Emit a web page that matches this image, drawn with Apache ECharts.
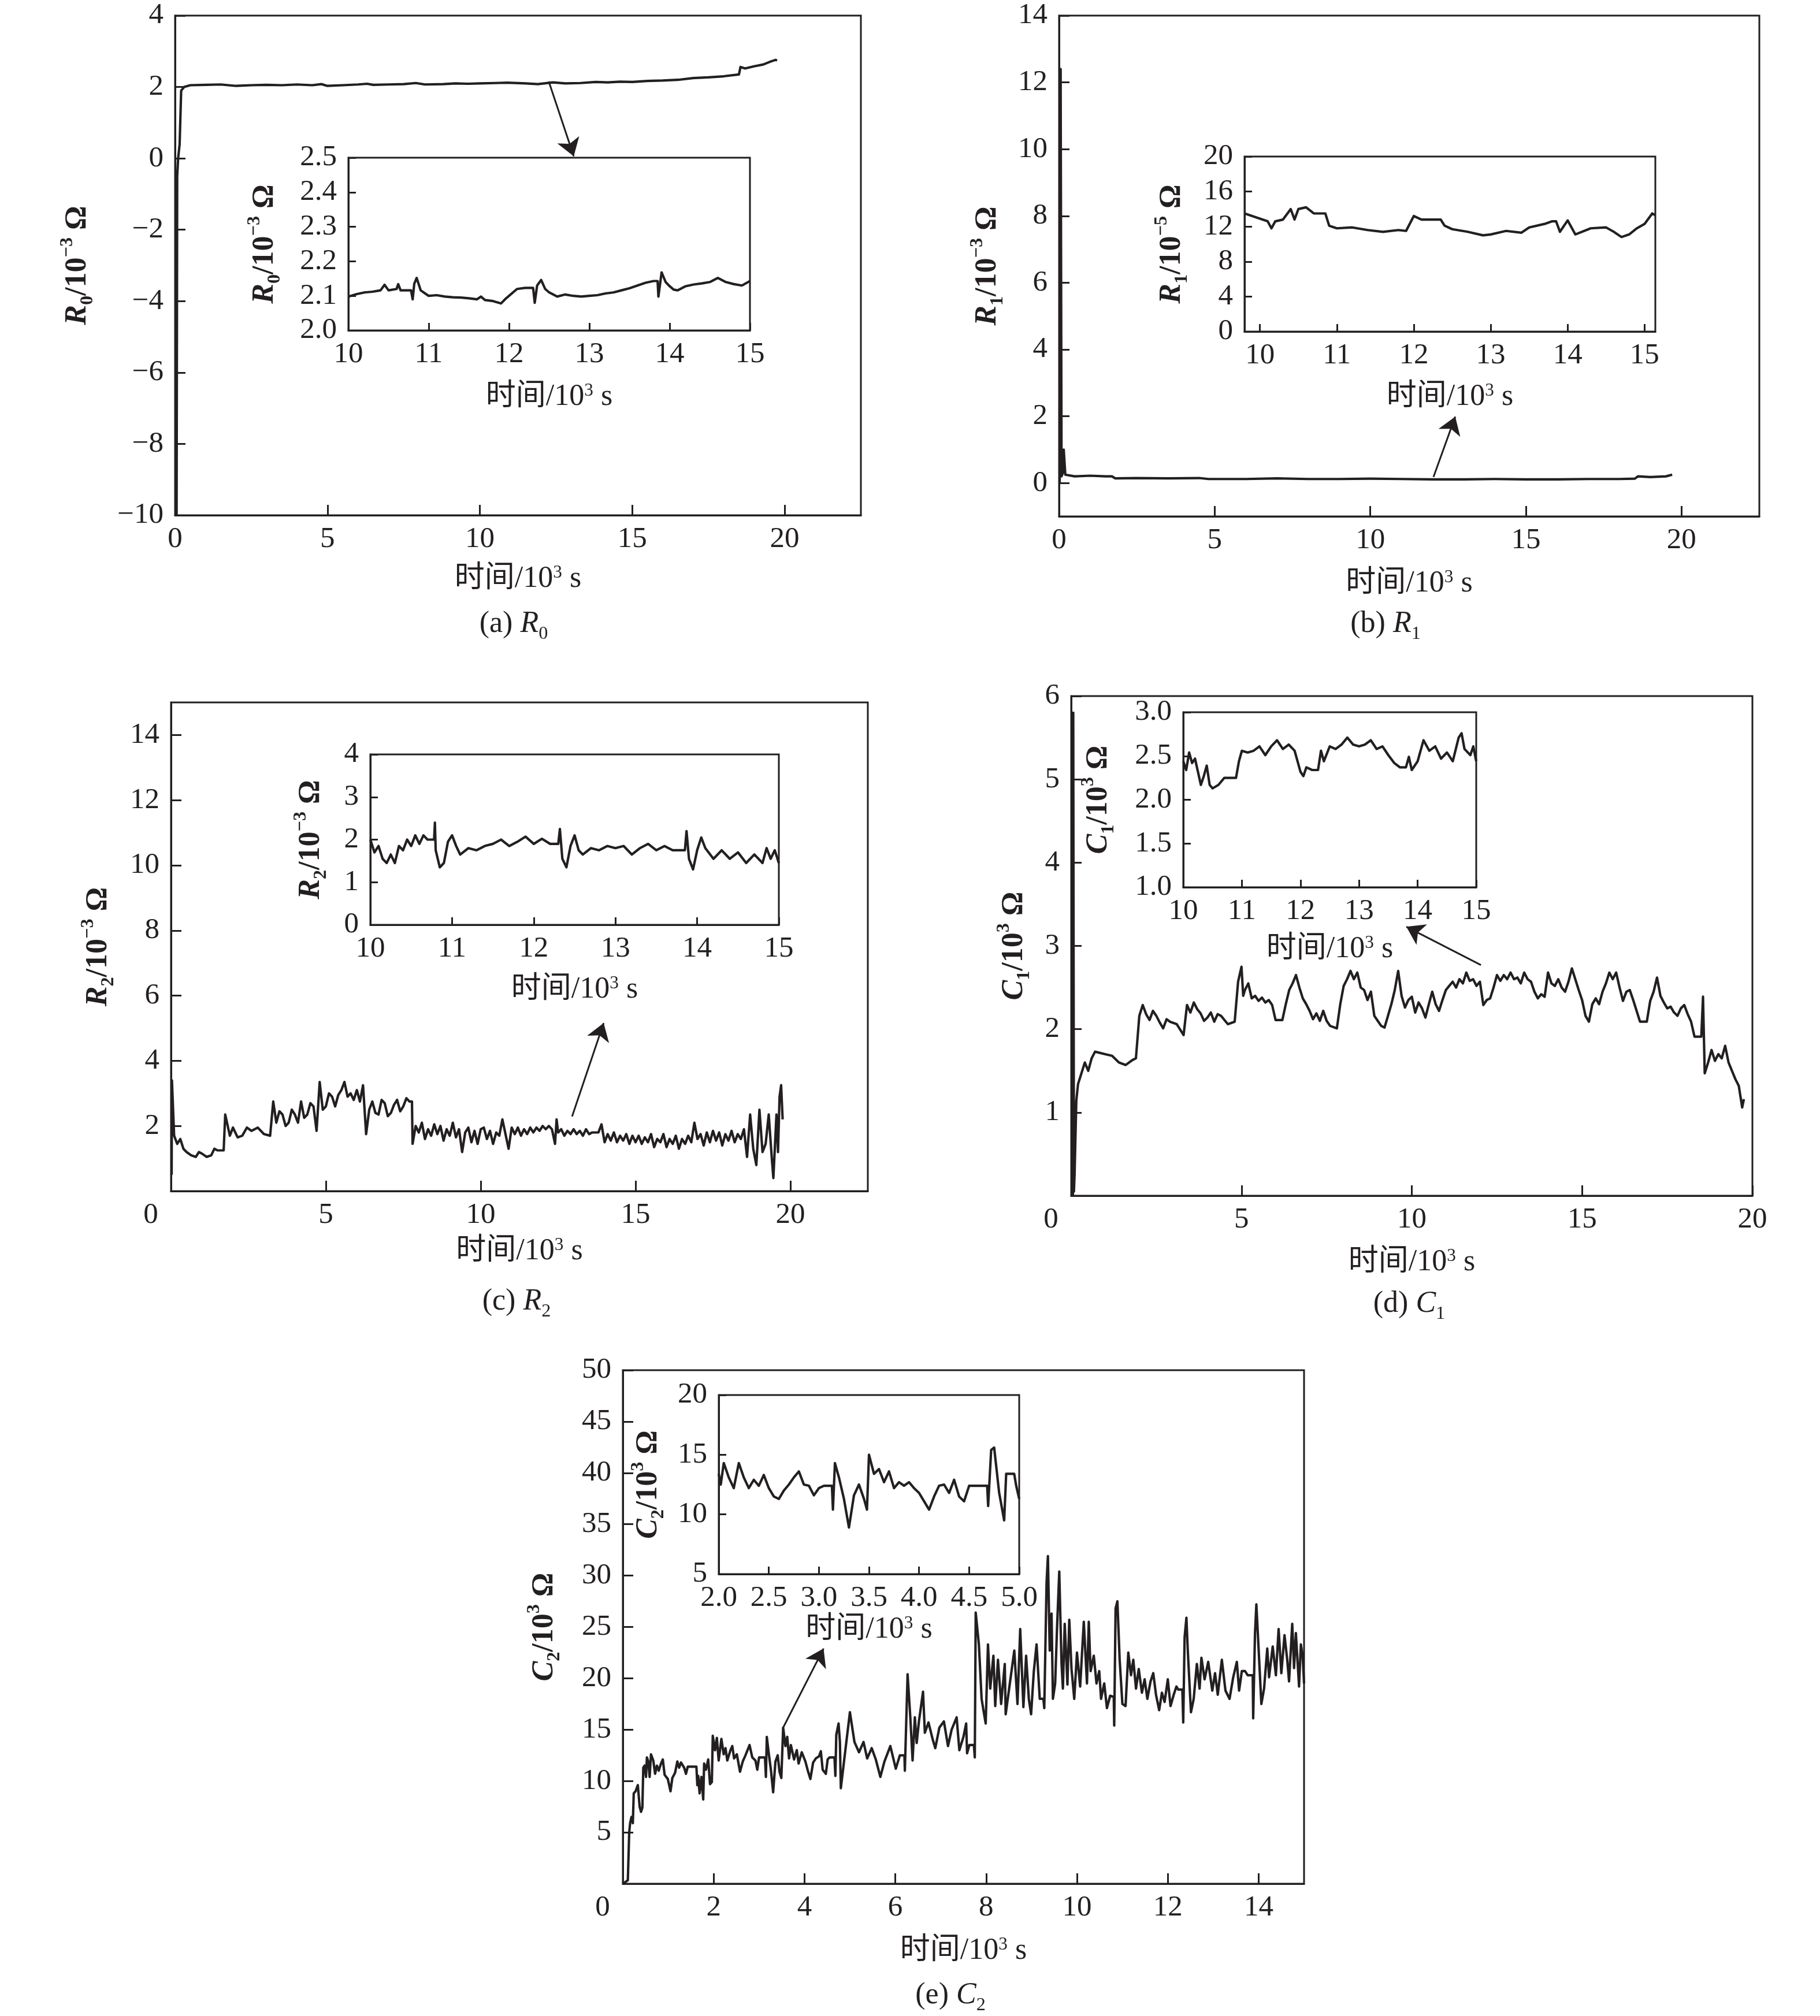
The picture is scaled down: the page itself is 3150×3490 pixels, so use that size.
<!DOCTYPE html>
<html>
<head>
<meta charset="utf-8">
<script src="https://cdn.jsdelivr.net/npm/echarts@6/dist/echarts.min.js"></script>
<style>
html,body{margin:0;background:#fff}
#chart{width:3150px;height:3490px}
</style>
</head>
<body>
<div id="chart"></div>
<script>
// ---- data: [time /10^3 s, value] ----
const r0Main = [[0,-10],[0.05,-10],[0.07,-0.5],[0.1,0],[0.15,0.4],[0.2,1.9],[0.3,2.0],[0.5,2.05],[1.0,2.06],[1.5,2.07],[2.0,2.03],[2.5,2.05],[3.0,2.06],[3.5,2.05],[4.0,2.07],[4.5,2.05],[4.8,2.08],[5.0,2.03],[5.5,2.05],[6.0,2.07],[6.3,2.09],[6.5,2.06],[7.0,2.07],[7.5,2.08],[7.9,2.11],[8.2,2.07],[8.8,2.08],[9.2,2.10],[9.6,2.09],[10.0,2.10],[10.5,2.11],[10.9,2.12],[11.5,2.10],[11.9,2.08],[12.4,2.13],[12.8,2.10],[13.3,2.11],[13.8,2.14],[14.2,2.13],[14.6,2.15],[15.0,2.14],[15.5,2.17],[16.0,2.18],[16.5,2.2],[17.0,2.25],[17.5,2.27],[18.0,2.3],[18.5,2.35],[18.55,2.56],[18.7,2.52],[19.0,2.58],[19.3,2.63],[19.5,2.7],[19.7,2.76],[19.75,2.74]];
const r0Inset = [[10.0,2.098],[10.1,2.105],[10.2,2.11],[10.3,2.112],[10.4,2.116],[10.45,2.132],[10.5,2.116],[10.6,2.12],[10.62,2.134],[10.65,2.116],[10.78,2.116],[10.8,2.09],[10.82,2.135],[10.85,2.152],[10.9,2.116],[10.95,2.108],[11.0,2.10],[11.1,2.102],[11.2,2.098],[11.3,2.096],[11.4,2.095],[11.5,2.093],[11.6,2.09],[11.65,2.098],[11.7,2.088],[11.8,2.085],[11.9,2.078],[11.95,2.09],[12.0,2.10],[12.1,2.12],[12.2,2.123],[12.3,2.123],[12.32,2.08],[12.35,2.13],[12.4,2.146],[12.45,2.12],[12.5,2.11],[12.6,2.098],[12.7,2.104],[12.8,2.10],[12.9,2.098],[13.0,2.10],[13.1,2.102],[13.2,2.107],[13.3,2.11],[13.4,2.116],[13.5,2.122],[13.6,2.13],[13.7,2.138],[13.8,2.143],[13.85,2.143],[13.86,2.098],[13.9,2.168],[13.95,2.14],[14.0,2.128],[14.05,2.118],[14.1,2.116],[14.2,2.128],[14.3,2.133],[14.4,2.136],[14.5,2.14],[14.6,2.152],[14.7,2.14],[14.8,2.134],[14.9,2.13],[15.0,2.143]];

const r1Main = [[0.02,0],[0.05,12.4],[0.08,0.2],[0.12,0.3],[0.15,1.0],[0.2,0.25],[0.5,0.2],[1.0,0.22],[1.5,0.2],[1.7,0.2],[1.8,0.14],[2.5,0.15],[3.5,0.14],[4.5,0.15],[4.8,0.12],[6.0,0.12],[7.0,0.14],[8.0,0.12],[9.0,0.12],[10.0,0.13],[11.0,0.12],[12.0,0.11],[13.0,0.11],[14.0,0.12],[15.0,0.11],[16.0,0.11],[17.0,0.12],[18.0,0.12],[18.5,0.13],[18.6,0.2],[19.0,0.18],[19.5,0.2],[19.7,0.25]];
const r1Inset = [[9.8,13.5],[9.9,13.2],[10.0,12.9],[10.1,12.6],[10.15,11.8],[10.2,12.6],[10.3,12.8],[10.4,14.0],[10.45,12.8],[10.5,14.0],[10.6,14.2],[10.7,13.5],[10.85,13.5],[10.9,12.1],[11.0,11.8],[11.2,11.9],[11.4,11.6],[11.6,11.4],[11.8,11.6],[11.9,11.5],[12.0,13.2],[12.1,12.8],[12.35,12.8],[12.4,12.1],[12.5,11.7],[12.7,11.4],[12.9,11.0],[13.0,11.1],[13.2,11.5],[13.4,11.3],[13.5,11.9],[13.7,12.3],[13.8,12.6],[13.85,12.6],[13.9,11.4],[14.0,12.7],[14.1,11.1],[14.3,11.8],[14.5,11.9],[14.6,11.4],[14.7,10.8],[14.8,11.1],[14.9,11.8],[15.0,12.3],[15.1,13.5],[15.14,13.3]];

const r2Main = [[0.02,0.5],[0.03,3.4],[0.1,1.7],[0.2,1.45],[0.3,1.6],[0.4,1.3],[0.5,1.2],[0.65,1.1],[0.8,1.05],[0.9,1.2],[1.0,1.15],[1.15,1.05],[1.3,1.1],[1.4,1.3],[1.5,1.25],[1.7,1.25],[1.75,2.35],[1.9,1.7],[2.0,1.95],[2.15,1.65],[2.3,1.7],[2.45,1.95],[2.6,1.85],[2.8,1.95],[3.0,1.75],[3.2,1.7],[3.3,2.75],[3.4,2.1],[3.5,2.45],[3.6,2.35],[3.7,2.0],[3.8,2.1],[3.9,2.5],[4.0,2.35],[4.1,2.1],[4.2,2.75],[4.3,2.25],[4.4,2.35],[4.5,2.7],[4.6,2.6],[4.7,1.85],[4.8,3.35],[4.9,2.5],[5.0,2.6],[5.1,3.0],[5.2,2.9],[5.3,2.6],[5.4,2.95],[5.5,3.1],[5.6,3.35],[5.7,2.9],[5.8,3.0],[5.9,2.8],[6.0,3.1],[6.1,2.75],[6.2,3.25],[6.3,1.75],[6.4,2.5],[6.5,2.75],[6.6,2.4],[6.7,2.35],[6.8,2.8],[6.9,2.7],[7.0,2.3],[7.1,2.4],[7.2,2.65],[7.3,2.8],[7.4,2.45],[7.5,2.6],[7.6,2.85],[7.7,2.75],[7.78,2.75],[7.8,1.45],[7.9,2.0],[8.0,1.8],[8.1,2.1],[8.2,1.6],[8.3,1.9],[8.4,1.7],[8.5,2.05],[8.6,1.75],[8.7,2.0],[8.8,1.55],[8.9,1.9],[9.0,1.7],[9.1,2.1],[9.2,1.65],[9.3,1.9],[9.4,1.2],[9.5,1.8],[9.6,1.95],[9.7,1.5],[9.8,1.85],[9.9,1.45],[10.0,1.9],[10.1,1.95],[10.2,1.6],[10.3,1.85],[10.4,1.45],[10.5,1.8],[10.6,1.7],[10.7,2.2],[10.8,1.75],[10.9,1.3],[11.0,1.95],[11.1,1.75],[11.2,1.95],[11.3,1.7],[11.4,1.9],[11.5,1.75],[11.6,1.95],[11.7,1.8],[11.8,1.95],[11.9,1.85],[12.0,2.0],[12.1,1.9],[12.2,2.0],[12.3,1.9],[12.4,1.45],[12.45,2.2],[12.5,1.8],[12.6,1.9],[12.7,1.7],[12.8,1.85],[12.9,1.75],[13.0,1.9],[13.1,1.75],[13.2,1.85],[13.3,1.7],[13.4,1.9],[13.5,1.75],[13.6,1.8],[13.8,1.8],[13.9,2.05],[14.0,1.5],[14.1,1.75],[14.2,1.55],[14.3,1.8],[14.4,1.5],[14.5,1.7],[14.6,1.55],[14.7,1.75],[14.8,1.45],[14.9,1.7],[15.0,1.5],[15.1,1.7],[15.2,1.45],[15.3,1.65],[15.4,1.5],[15.5,1.75],[15.6,1.35],[15.7,1.6],[15.8,1.5],[15.9,1.75],[16.0,1.35],[16.1,1.6],[16.2,1.45],[16.3,1.7],[16.4,1.3],[16.5,1.6],[16.6,1.45],[16.7,1.7],[16.8,1.5],[16.9,2.1],[17.0,1.6],[17.1,1.75],[17.2,1.4],[17.3,1.8],[17.4,1.5],[17.5,1.85],[17.6,1.55],[17.7,1.8],[17.8,1.4],[17.9,1.75],[18.0,1.55],[18.1,1.85],[18.2,1.5],[18.3,1.75],[18.4,1.6],[18.5,1.9],[18.6,1.05],[18.7,2.35],[18.8,1.3],[18.9,0.8],[19.0,2.5],[19.1,1.2],[19.2,1.45],[19.3,2.35],[19.4,1.0],[19.45,0.4],[19.55,2.35],[19.6,1.2],[19.65,2.9],[19.7,3.25],[19.75,2.2]];
const r2Inset = [[10.0,2.0],[10.05,1.7],[10.1,1.85],[10.15,1.55],[10.2,1.45],[10.25,1.65],[10.3,1.45],[10.35,1.85],[10.4,1.75],[10.45,2.0],[10.5,1.85],[10.55,2.1],[10.6,1.9],[10.65,2.1],[10.7,2.0],[10.78,2.0],[10.79,2.4],[10.8,1.75],[10.85,1.35],[10.9,1.45],[10.95,1.95],[11.0,2.1],[11.05,1.85],[11.1,1.65],[11.2,1.8],[11.3,1.75],[11.4,1.85],[11.5,1.9],[11.6,2.0],[11.7,1.85],[11.8,1.95],[11.9,2.07],[12.0,1.9],[12.1,2.02],[12.2,1.9],[12.3,1.9],[12.32,2.25],[12.35,1.55],[12.4,1.35],[12.45,1.85],[12.5,2.1],[12.55,1.75],[12.6,1.65],[12.7,1.8],[12.8,1.75],[12.9,1.85],[13.0,1.8],[13.1,1.85],[13.2,1.65],[13.3,1.8],[13.4,1.9],[13.5,1.75],[13.6,1.85],[13.7,1.75],[13.85,1.75],[13.87,2.2],[13.9,1.55],[13.95,1.3],[14.0,1.75],[14.05,2.05],[14.1,1.8],[14.2,1.55],[14.3,1.75],[14.4,1.55],[14.5,1.7],[14.6,1.45],[14.7,1.65],[14.8,1.45],[14.85,1.8],[14.9,1.55],[14.95,1.75],[15.0,1.45]];

const c1Main = [[0.05,0],[0.06,5.8],[0.08,0.05],[0.1,0.27],[0.15,1.14],[0.2,1.34],[0.3,1.47],[0.4,1.6],[0.5,1.5],[0.6,1.65],[0.7,1.73],[1.0,1.7],[1.2,1.68],[1.4,1.6],[1.6,1.57],[1.8,1.63],[1.9,1.65],[2.0,2.16],[2.1,2.29],[2.2,2.18],[2.3,2.11],[2.4,2.22],[2.5,2.16],[2.6,2.08],[2.7,2.01],[2.8,2.12],[2.9,2.09],[3.1,2.06],[3.3,1.93],[3.4,2.29],[3.5,2.2],[3.6,2.32],[3.7,2.24],[3.8,2.19],[3.9,2.1],[4.0,2.14],[4.1,2.2],[4.2,2.09],[4.3,2.18],[4.4,2.16],[4.6,2.06],[4.8,2.09],[4.9,2.57],[5.0,2.75],[5.05,2.4],[5.1,2.47],[5.2,2.55],[5.3,2.37],[5.4,2.4],[5.5,2.34],[5.6,2.38],[5.7,2.32],[5.8,2.35],[5.9,2.29],[6.0,2.11],[6.2,2.11],[6.3,2.3],[6.4,2.47],[6.5,2.55],[6.6,2.65],[6.7,2.5],[6.8,2.37],[6.9,2.3],[7.0,2.22],[7.1,2.12],[7.2,2.19],[7.3,2.1],[7.4,2.22],[7.5,2.1],[7.6,2.04],[7.8,2.01],[7.9,2.3],[8.0,2.52],[8.1,2.6],[8.2,2.7],[8.3,2.6],[8.4,2.68],[8.5,2.5],[8.6,2.47],[8.7,2.35],[8.8,2.45],[8.9,2.16],[9.0,2.1],[9.1,2.04],[9.2,2.02],[9.3,2.16],[9.4,2.3],[9.5,2.47],[9.6,2.7],[9.7,2.4],[9.8,2.26],[9.9,2.35],[10.0,2.39],[10.1,2.2],[10.2,2.32],[10.3,2.25],[10.4,2.14],[10.5,2.3],[10.6,2.45],[10.7,2.3],[10.8,2.22],[10.9,2.35],[11.0,2.47],[11.1,2.52],[11.2,2.57],[11.3,2.5],[11.4,2.6],[11.5,2.55],[11.6,2.68],[11.7,2.58],[11.8,2.6],[11.9,2.52],[12.0,2.57],[12.1,2.29],[12.2,2.35],[12.3,2.37],[12.4,2.5],[12.5,2.65],[12.6,2.58],[12.7,2.65],[12.8,2.6],[12.9,2.68],[13.0,2.6],[13.1,2.62],[13.2,2.55],[13.3,2.68],[13.4,2.6],[13.5,2.57],[13.6,2.45],[13.7,2.37],[13.8,2.42],[13.9,2.39],[14.0,2.68],[14.1,2.55],[14.2,2.52],[14.3,2.6],[14.4,2.5],[14.5,2.45],[14.6,2.57],[14.7,2.73],[14.8,2.6],[14.9,2.47],[15.0,2.35],[15.1,2.16],[15.2,2.09],[15.3,2.3],[15.4,2.37],[15.5,2.3],[15.6,2.45],[15.7,2.55],[15.8,2.68],[15.9,2.6],[16.0,2.68],[16.1,2.5],[16.2,2.34],[16.3,2.45],[16.4,2.47],[16.5,2.35],[16.6,2.22],[16.7,2.09],[16.9,2.09],[17.0,2.34],[17.1,2.45],[17.2,2.62],[17.3,2.4],[17.4,2.32],[17.5,2.25],[17.6,2.27],[17.7,2.2],[17.8,2.16],[17.9,2.25],[18.0,2.29],[18.1,2.18],[18.2,2.09],[18.3,1.91],[18.5,1.91],[18.55,2.39],[18.6,1.47],[18.7,1.6],[18.8,1.75],[18.9,1.62],[19.0,1.7],[19.1,1.65],[19.2,1.8],[19.3,1.6],[19.4,1.5],[19.5,1.4],[19.6,1.32],[19.7,1.06],[19.75,1.16]];
const c1Inset = [[10.0,2.44],[10.05,2.34],[10.1,2.54],[10.15,2.42],[10.2,2.47],[10.25,2.32],[10.3,2.17],[10.35,2.27],[10.4,2.39],[10.45,2.17],[10.5,2.13],[10.6,2.17],[10.7,2.25],[10.9,2.25],[10.95,2.44],[11.0,2.56],[11.1,2.54],[11.2,2.56],[11.3,2.61],[11.4,2.51],[11.5,2.61],[11.6,2.68],[11.7,2.58],[11.8,2.63],[11.9,2.56],[12.0,2.32],[12.05,2.27],[12.1,2.37],[12.2,2.34],[12.3,2.34],[12.35,2.56],[12.4,2.44],[12.5,2.61],[12.6,2.58],[12.7,2.63],[12.8,2.71],[12.9,2.63],[13.0,2.61],[13.1,2.63],[13.2,2.68],[13.3,2.58],[13.4,2.61],[13.5,2.51],[13.6,2.42],[13.7,2.37],[13.8,2.37],[13.85,2.49],[13.9,2.34],[14.0,2.44],[14.1,2.68],[14.2,2.56],[14.3,2.61],[14.4,2.47],[14.5,2.54],[14.6,2.44],[14.7,2.71],[14.75,2.76],[14.8,2.58],[14.9,2.51],[14.95,2.61],[15.0,2.44]];

const c2Main = [[0,0],[0.05,0.15],[0.11,0.34],[0.14,5.0],[0.16,5.9],[0.19,6.5],[0.22,5.9],[0.24,8.8],[0.28,9.0],[0.33,9.6],[0.37,7.5],[0.40,7.0],[0.43,7.4],[0.45,11.3],[0.48,11.5],[0.51,10.4],[0.53,12.3],[0.56,11.9],[0.59,10.4],[0.62,12.6],[0.67,12.0],[0.71,10.7],[0.75,11.5],[0.79,11.0],[0.84,11.7],[0.88,12.1],[0.92,10.6],[0.99,10.2],[1.05,9.0],[1.09,10.3],[1.15,10.8],[1.20,11.9],[1.24,11.3],[1.28,11.8],[1.35,11.3],[1.39,10.7],[1.43,11.4],[1.62,11.4],[1.64,9.6],[1.66,10.5],[1.69,8.8],[1.73,10.4],[1.77,8.2],[1.79,11.7],[1.83,11.1],[1.88,12.1],[1.92,9.7],[1.96,9.9],[1.98,14.4],[2.03,13.0],[2.07,14.2],[2.11,12.0],[2.17,14.1],[2.22,12.6],[2.26,13.2],[2.30,12.0],[2.37,13.0],[2.41,13.4],[2.45,12.2],[2.51,12.6],[2.58,10.9],[2.64,11.9],[2.70,12.5],[2.79,13.5],[2.85,12.3],[2.92,12.0],[2.96,11.1],[3.00,12.3],[3.13,12.3],[3.15,10.4],[3.17,14.3],[3.21,12.8],[3.26,11.1],[3.31,8.9],[3.36,11.9],[3.41,12.5],[3.45,10.9],[3.49,10.3],[3.53,15.2],[3.58,13.4],[3.62,14.3],[3.66,12.2],[3.70,13.5],[3.77,12.1],[3.83,13.0],[3.87,11.7],[3.94,12.8],[4.02,11.9],[4.08,10.9],[4.13,10.2],[4.19,11.8],[4.25,12.2],[4.32,12.4],[4.36,12.9],[4.40,11.1],[4.47,10.7],[4.51,12.1],[4.55,12.3],[4.66,12.3],[4.68,10.5],[4.70,14.5],[4.75,15.6],[4.78,13.8],[4.8,9.3],[4.9,13.0],[5.0,16.7],[5.1,13.8],[5.2,12.8],[5.3,13.8],[5.38,12.2],[5.48,13.2],[5.57,12.1],[5.67,10.4],[5.76,11.9],[5.89,13.4],[6.01,11.2],[6.10,12.5],[6.20,12.5],[6.21,11.0],[6.27,20.4],[6.33,16.2],[6.38,12.0],[6.43,16.2],[6.47,13.7],[6.52,15.8],[6.61,18.7],[6.65,14.7],[6.73,15.7],[6.82,14.1],[6.88,13.2],[6.97,15.2],[7.07,15.8],[7.16,13.4],[7.24,15.0],[7.35,16.2],[7.41,13.0],[7.50,14.3],[7.56,15.6],[7.58,12.7],[7.63,13.5],[7.73,13.5],[7.75,12.3],[7.77,26.4],[7.84,23.3],[7.90,18.0],[7.94,16.9],[7.99,15.6],[8.04,23.3],[8.09,19.0],[8.16,22.2],[8.20,17.3],[8.26,21.8],[8.33,17.5],[8.41,21.4],[8.43,16.5],[8.54,20.1],[8.62,22.7],[8.69,17.5],[8.75,24.8],[8.82,17.2],[8.88,22.2],[8.94,18.0],[8.99,16.5],[9.05,20.7],[9.11,23.3],[9.18,18.0],[9.26,18.0],[9.28,17.1],[9.33,29.3],[9.36,31.9],[9.40,22.7],[9.44,26.3],[9.47,18.0],[9.52,19.5],[9.56,24.8],[9.61,30.4],[9.66,21.4],[9.69,19.0],[9.73,25.3],[9.79,19.4],[9.83,25.7],[9.88,20.9],[9.94,18.0],[10.00,22.5],[10.07,19.2],[10.15,25.5],[10.22,19.5],[10.26,25.5],[10.30,20.7],[10.37,22.2],[10.43,19.5],[10.49,20.7],[10.53,18.0],[10.60,19.5],[10.66,17.1],[10.73,18.3],[10.81,18.2],[10.82,15.4],[10.85,26.8],[10.89,27.5],[10.94,21.8],[11.00,17.5],[11.07,17.3],[11.13,22.5],[11.19,20.3],[11.24,21.8],[11.30,19.0],[11.36,20.9],[11.43,18.6],[11.49,19.9],[11.55,18.0],[11.62,19.7],[11.68,20.5],[11.74,18.4],[11.81,16.9],[11.87,18.6],[11.93,17.7],[12.00,19.9],[12.06,17.3],[12.13,18.4],[12.19,19.2],[12.23,18.9],[12.32,18.9],[12.34,15.7],[12.37,24.0],[12.41,25.9],[12.44,22.7],[12.51,16.7],[12.57,18.0],[12.64,21.4],[12.70,19.0],[12.74,22.0],[12.81,19.9],[12.89,21.6],[12.98,18.8],[13.04,20.5],[13.10,18.4],[13.19,21.8],[13.27,18.8],[13.36,18.0],[13.44,20.1],[13.52,21.6],[13.57,18.8],[13.63,20.7],[13.70,20.7],[13.76,20.3],[13.87,20.3],[13.88,16.1],[13.92,24.4],[13.95,27.2],[13.99,23.7],[14.06,17.5],[14.12,19.0],[14.19,22.9],[14.23,20.1],[14.31,23.1],[14.38,20.3],[14.44,24.8],[14.50,20.5],[14.57,24.2],[14.63,21.8],[14.67,19.7],[14.74,25.3],[14.78,21.0],[14.82,24.4],[14.89,19.2],[14.93,23.3],[14.97,22.2],[15.0,19.5]];
const c2Inset = [[2.0,13.4],[2.02,12.5],[2.05,14.3],[2.1,13.1],[2.15,12.2],[2.2,14.3],[2.25,13.1],[2.3,12.2],[2.35,12.9],[2.4,12.4],[2.45,13.3],[2.5,12.2],[2.55,11.5],[2.6,11.3],[2.65,12.0],[2.7,12.5],[2.75,13.1],[2.8,13.6],[2.85,12.5],[2.9,12.4],[2.95,11.6],[3.0,12.2],[3.05,12.4],[3.13,12.4],[3.14,10.4],[3.16,14.3],[3.2,13.1],[3.25,11.3],[3.3,8.9],[3.35,11.6],[3.4,12.5],[3.45,11.3],[3.48,10.4],[3.5,15.0],[3.55,13.4],[3.6,13.8],[3.65,12.7],[3.7,13.6],[3.75,12.2],[3.8,12.7],[3.85,12.4],[3.9,12.7],[3.95,12.2],[4.0,11.8],[4.05,11.1],[4.1,10.4],[4.15,11.5],[4.2,12.4],[4.25,12.5],[4.3,11.8],[4.35,12.9],[4.4,11.5],[4.45,11.1],[4.5,12.4],[4.68,12.4],[4.69,10.7],[4.72,15.4],[4.75,15.6],[4.8,11.8],[4.85,9.5],[4.87,13.4],[4.95,13.4],[4.97,12.4],[5.0,11.3]];

// ---- tick values ----
const ticksX20 = [0,5,10,15,20];
const ticksInsetX = [10,11,12,13,14,15];
const ticksR0 = [-10,-8,-6,-4,-2,0,2,4];
const ticksR0Inset = [2.0,2.1,2.2,2.3,2.4,2.5];
const ticksR1 = [0,2,4,6,8,10,12,14];
const ticksR1Inset = [0,4,8,12,16,20];
const ticksR2 = [2,4,6,8,10,12,14];
const ticksR2Inset = [0,1,2,3,4];
const ticksC1 = [1,2,3,4,5,6];
const ticksC1Inset = [1.0,1.5,2.0,2.5,3.0];
const ticksC2 = [5,10,15,20,25,30,35,40,45,50];
const ticksC2X = [0,2,4,6,8,10,12,14];
const ticksC2Inset = [5,10,15,20];
const ticksC2InsetX = [2.0,2.5,3.0,3.5,4.0,4.5,5.0];

const INK = '#231f20';
const SERIF = "'Liberation Serif','Noto Sans CJK SC',serif";

const chart = echarts.init(document.getElementById('chart'));

const panels = [
  {box:[303,27,1187,865], x:[0,22.5], y:[-10,4], xt:ticksX20, yt:ticksR0, data:r0Main, nm:['R','0','−3'], yGap:135, xGap:84,
   arrow:[[12.26,2.155],[13.08,0.06]]},
  {box:[603,273,695,299], x:[10,15], y:[2.0,2.5], xt:ticksInsetX, yt:ticksR0Inset, yDec:1, data:r0Inset, nm:['R','0','−3'], yGap:111, xGap:89, inset:true},
  {box:[1833,27,1212,867], x:[0,22.5], y:[-1,14], xt:ticksX20, yt:ticksR1, data:r1Main, nm:['R','1','−3'], yGap:90, xGap:90,
   arrow:[[12.03,0.18],[12.73,1.99]]},
  {box:[2154,271,711,303], x:[9.8,15.14], y:[0,20], xt:ticksInsetX, yt:ticksR1Inset, data:r1Inset, nm:['R','1','−5'], yGap:92, xGap:87, inset:true},
  {box:[296,1216,1206,846], x:[0,22.5], y:[0,15], xt:ticksX20, yt:ticksR2, data:r2Main, nm:['R','2','−3'], yGap:92, xGap:78, zeroShift:true,
   arrow:[[12.95,2.29],[13.97,5.16]]},
  {box:[641,1306,707,295], x:[10,15], y:[0,4], xt:ticksInsetX, yt:ticksR2Inset, data:r2Inset, nm:['R','2','−3'], yGap:69, xGap:86, inset:true},
  {box:[1854,1205,1179,865], x:[0,20], y:[0,6], xt:ticksX20, yt:ticksC1, data:c1Main, nm:['C','1','3'], yGap:65, xGap:89, zeroShift:true,
   arrow:[[12.03,2.77],[9.84,3.23]]},
  {box:[2048,1233,507,303], x:[10,15], y:[1,3], xt:ticksInsetX, yt:ticksC1Inset, yDec:1, data:c1Inset, nm:['C','1','3'], yGap:113, xGap:81, inset:true},
  {box:[1078,2372,1179,889], x:[0,15], y:[0,50], xt:ticksC2X, yt:ticksC2, data:c2Main, nm:['C','2','3'], yGap:102, xGap:90, zeroShift:true,
   arrow:[[3.53,15.2],[4.42,22.9]]},
  {box:[1244,2415,520,310], x:[2,5], y:[5,20], xt:ticksC2InsetX, xDec:1, yt:ticksC2Inset, data:c2Inset, nm:['C','2','3'], yGap:88, xGap:70, inset:true}
];

const captions = [
  {x:889, y:1080, sym:'R', sub:'0', tag:'(a)'},
  {x:2398, y:1080, sym:'R', sub:'1', tag:'(b)'},
  {x:894, y:2253, sym:'R', sub:'2', tag:'(c)'},
  {x:2439, y:2257, sym:'C', sub:'1', tag:'(d)'},
  {x:1645, y:3454, sym:'C', sub:'2', tag:'(e)'}
];

const FS = 51;     // tick labels
const NFS = 52;    // axis names

function fmt(dec, zeroShift) {
  return v => {
    if (zeroShift && v === 0) return '{z|0}';
    const s = Math.abs(v).toFixed(dec || 0);
    return (v < 0 ? '−' : '') + s;
  };
}

const yNameRich = {
  i: {fontFamily: SERIF, fontSize: NFS, fontStyle: 'italic', fontWeight: 'bold', color: INK, lineHeight: NFS * 1.3},
  b: {fontFamily: SERIF, fontSize: NFS * 0.62, fontWeight: 'bold', color: INK, verticalAlign: 'bottom', lineHeight: NFS * 0.62},
  n: {fontFamily: SERIF, fontSize: NFS, fontWeight: 'bold', color: INK, lineHeight: NFS * 1.3},
  t: {fontFamily: SERIF, fontSize: NFS * 0.62, fontWeight: 'bold', color: INK, verticalAlign: 'top', lineHeight: NFS * 0.62}
};

const grids = [], xAxes = [], yAxes = [], series = [];

panels.forEach((p, k) => {
  const zBase = p.inset ? 10 : 0;
  grids.push({
    left: p.box[0], top: p.box[1], width: p.box[2], height: p.box[3],
    show: true, borderColor: INK, borderWidth: 3,
    backgroundColor: p.inset ? '#fff' : 'transparent', z: zBase
  });
  xAxes.push({
    type: 'value', gridIndex: k, min: p.x[0], max: p.x[1], z: zBase + 2,
    axisLine: {show: true, onZero: false, lineStyle: {color: INK, width: 3}},
    axisTick: {show: true, inside: true, length: p.inset ? 13 : 18, customValues: p.xt, lineStyle: {color: INK, width: 3}},
    axisLabel: {customValues: p.xt, margin: 16, fontSize: FS, fontFamily: SERIF, color: INK,
      formatter: fmt(p.xDec, p.zeroShift), rich: {z: {padding: [0, 70, 0, 0]}}},
    splitLine: {show: false},
    name: '时间/10{p|3} s', nameLocation: 'middle', nameGap: p.xGap,
    nameTextStyle: {fontSize: NFS, fontFamily: SERIF, color: INK,
      rich: {p: {fontSize: NFS * 0.6, fontFamily: SERIF, color: INK, verticalAlign: 'top'}}}
  });
  yAxes.push({
    type: 'value', gridIndex: k, min: p.y[0], max: p.y[1], z: zBase + 2,
    axisLine: {show: true, onZero: false, lineStyle: {color: INK, width: 3}},
    axisTick: {show: true, inside: true, length: p.inset ? 13 : 18, customValues: p.yt, lineStyle: {color: INK, width: 3}},
    axisLabel: {customValues: p.yt, margin: 20, fontSize: FS, fontFamily: SERIF, color: INK, formatter: fmt(p.yDec)},
    splitLine: {show: false},
    name: `{i|${p.nm[0]}}{b|${p.nm[1]}}{n|/10}{t|${p.nm[2]}}{n| Ω}`,
    nameLocation: 'middle', nameGap: p.yGap,
    nameTextStyle: {rich: yNameRich}
  });
  const s = {
    type: 'line', xAxisIndex: k, yAxisIndex: k, data: p.data,
    symbol: 'none', showSymbol: false, silent: true, animation: false, z: zBase + 3,
    lineStyle: {color: INK, width: 4.2, join: 'round'}
  };
  if (p.arrow) {
    s.markLine = {
      silent: true, animation: false, symbol: ['none', 'arrow'], symbolSize: 30,
      label: {show: false},
      lineStyle: {color: INK, width: 3, type: 'solid'},
      data: [[{coord: p.arrow[0]}, {coord: p.arrow[1]}]]
    };
  }
  series.push(s);
});

const graphic = captions.map(c => ({
  type: 'text', x: c.x, y: c.y,
  style: {
    text: `{n|${c.tag} }{i|${c.sym}}{b|${c.sub}}`,
    align: 'center', verticalAlign: 'middle',
    rich: {
      n: {fontFamily: SERIF, fontSize: NFS, fill: INK, lineHeight: NFS * 1.3},
      i: {fontFamily: SERIF, fontSize: NFS, fontStyle: 'italic', fill: INK, lineHeight: NFS * 1.3},
      b: {fontFamily: SERIF, fontSize: NFS * 0.62, fill: INK, verticalAlign: 'bottom', lineHeight: NFS * 0.62}
    }
  }
}));

chart.setOption({
  backgroundColor: '#fff',
  animation: false,
  grid: grids,
  xAxis: xAxes,
  yAxis: yAxes,
  series: series,
  graphic: graphic
});
</script>
</body>
</html>
